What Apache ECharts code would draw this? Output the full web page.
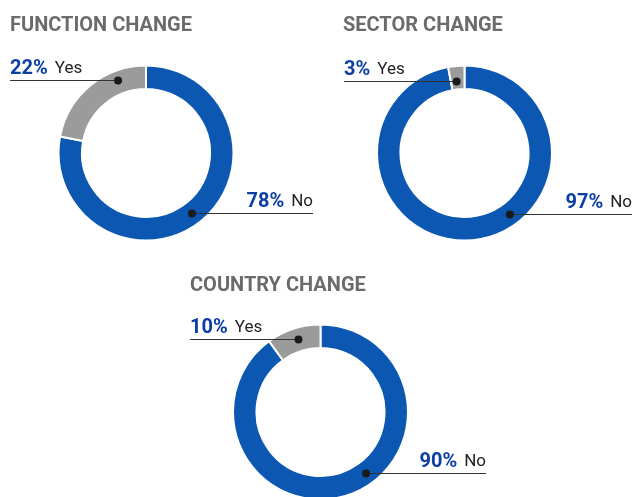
<!DOCTYPE html>
<html>
<head>
<meta charset="utf-8">
<style>
  html, body { margin: 0; padding: 0; background: #fff; }
  #chart { width: 632px; height: 497px; }
</style>
<script src="https://cdn.jsdelivr.net/npm/echarts@6/dist/echarts.min.js"></script>
</head>
<body>
<div id="chart"></div>
<script>
// 数据
const titles = ['FUNCTION CHANGE', 'SECTOR CHANGE', 'COUNTRY CHANGE'];
const categories = ['No', 'Yes'];
const functionValues = [78, 22];
const sectorValues = [97, 3];
const countryValues = [90, 10];

const allValues = [functionValues, sectorValues, countryValues];

// 版式：圆心、标题位置、引线锚点（角度顺时针从正上方起，半径）与引线外端 x
const layouts = [
    { center: [146, 153], title: [10, 16], yes: { angle: 339, r: 78, x: 10 }, no: { angle: 142.5, r: 75.6, x: 313 } },
    { center: [464.5, 153], title: [343, 16], yes: { angle: 353.8, r: 72.7, x: 344 }, no: { angle: 143.3, r: 76, x: 632 } },
    { center: [320.5, 412], title: [190, 276], yes: { angle: 343.2, r: 76.2, x: 190 }, no: { angle: 143.1, r: 75.9, x: 486 } }
];
const innerR = 64;
const outerR = 87.5;

const blue = '#0b57b2';
const grey = '#9b9b9b';

function anchorPoint(lay, name) {
    const an = name === 'Yes' ? lay.yes : lay.no;
    const a = an.angle * Math.PI / 180;
    return [lay.center[0] + an.r * Math.sin(a), Math.round(lay.center[1] - an.r * Math.cos(a)) + 0.5];
}

const chart = echarts.init(document.getElementById('chart'), null, { renderer: 'canvas' });

const series = allValues.map((values, si) => {
    const lay = layouts[si];
    return {
        type: 'pie',
        center: lay.center,
        radius: [innerR, outerR],
        startAngle: 90,
        clockwise: true,
        silent: true,
        itemStyle: { borderColor: '#fff', borderWidth: 2 },
        data: categories.map((name, i) => ({
            name: name,
            value: values[i],
            itemStyle: { color: name === 'Yes' ? grey : blue }
        })),
        label: {
            show: true,
            overflow: 'none',
            formatter: '{p|{c}%}{n|{b}}',
            rich: {
                p: { fontFamily: 'Roboto', fontWeight: 'bold', fontSize: 20, color: '#0b3fa3', lineHeight: 22 },
                n: { fontFamily: 'Roboto', fontSize: 17, color: '#222', padding: [0, 0, 0, 7], lineHeight: 22 }
            }
        },
        labelLine: { show: false },
        labelLayout: function (params) {
            const name = categories[params.dataIndex];
            const p = anchorPoint(lay, name);
            return {
                x: name === 'Yes' ? lay.yes.x : lay.no.x,
                y: p[1] - 1,
                align: name === 'Yes' ? 'left' : 'right',
                verticalAlign: 'bottom'
            };
        }
    };
});

// 引线与锚点圆点
const marks = [];
layouts.forEach(lay => {
    categories.forEach(name => {
        const p = anchorPoint(lay, name);
        const endX = name === 'Yes' ? lay.yes.x : lay.no.x;
        marks.push({
            type: 'line',
            shape: { x1: endX, y1: p[1], x2: p[0], y2: p[1] },
            style: { stroke: '#333', lineWidth: 1 },
            z: 99
        });
        marks.push({
            type: 'circle',
            shape: { cx: p[0], cy: p[1], r: 4 },
            style: { fill: '#1a1a1a' },
            z: 100
        });
    });
});

chart.setOption({
    animation: false,
    title: titles.map((t, i) => ({
        text: t,
        left: layouts[i].title[0],
        top: layouts[i].title[1],
        padding: 0,
        textStyle: { fontFamily: 'Roboto', fontWeight: 'bold', fontSize: 20, color: '#6b6b6b' }
    })),
    series: series,
    graphic: marks
});
</script>
</body>
</html>
